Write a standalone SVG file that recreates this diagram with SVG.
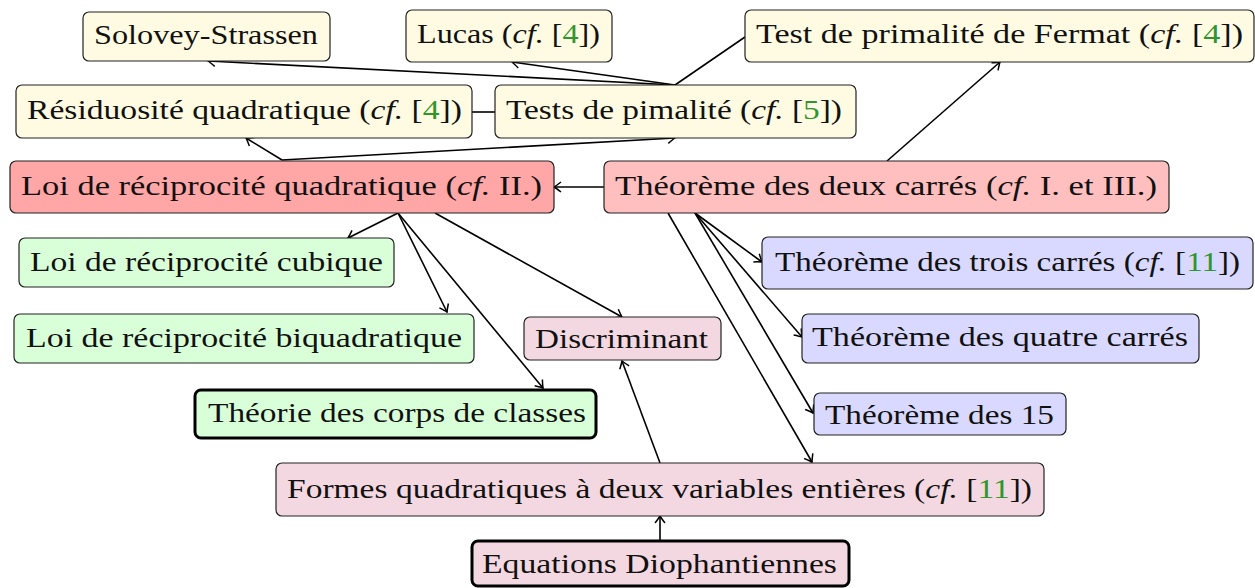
<svg xmlns="http://www.w3.org/2000/svg" width="1255" height="588" viewBox="0 0 1255 588" font-family="Liberation Serif, Times New Roman, Times, serif">
<style>
.box{stroke:#222;stroke-width:1.2}
.thick{stroke:#000;stroke-width:3}
.y{fill:#fefbe2}.r1{fill:#ffa6a6}.r2{fill:#ffbfbf}.g{fill:#d9ffd9}.b{fill:#d9d9ff}.p{fill:#f4d8e1}
text{font-family:'Liberation Serif','Times New Roman',Times,serif;font-size:28px;fill:#111}
.i{font-style:italic}.c{fill:#2f962f}
.e{fill:none;stroke:#000;stroke-width:1.6}
</style>
<defs>
<marker id="ar" markerUnits="userSpaceOnUse" markerWidth="14" markerHeight="14" refX="0" refY="0" viewBox="-8 -7 10 14" orient="auto" overflow="visible">
<path d="M-7,-5 Q-2,-1.2 0,0 Q-2,1.2 -7,5" fill="none" stroke="#000" stroke-width="1.5"/>
</marker>
</defs>
<g id="connectors">
<path class="e" d="M675,85 L208,61" marker-end="url(#ar)"/>
<path class="e" d="M675,85 L512,62" marker-end="url(#ar)"/>
<path class="e" d="M675,85 L745,37"/>
<path class="e" d="M472,112 L495,112"/>
<path class="e" d="M282,160 L246,138" marker-end="url(#ar)"/>
<path class="e" d="M282,160 L675,138" marker-end="url(#ar)"/>
<path class="e" d="M604,187 L554,187" marker-end="url(#ar)"/>
<path class="e" d="M887,161 L1000,62" marker-end="url(#ar)"/>
<path class="e" d="M398,213 L348,238" marker-end="url(#ar)"/>
<path class="e" d="M398,213 L447,312" marker-end="url(#ar)"/>
<path class="e" d="M398,213 L543,388" marker-end="url(#ar)"/>
<path class="e" d="M435,213 L622,317" marker-end="url(#ar)"/>
<path class="e" d="M668,213 L812,462" marker-end="url(#ar)"/>
<path class="e" d="M695,213 L762,262" marker-end="url(#ar)"/>
<path class="e" d="M695,213 L802,337" marker-end="url(#ar)"/>
<path class="e" d="M695,213 L813,413" marker-end="url(#ar)"/>
<path class="e" d="M660,463 L622,361" marker-end="url(#ar)"/>
<path class="e" d="M660,541 L660,516" marker-end="url(#ar)"/>
</g>
<g id="solovey"><rect class="box y" x="83" y="12" width="247" height="49" rx="6"/><text x="94" y="44" textLength="224" lengthAdjust="spacingAndGlyphs">Solovey-Strassen</text></g>
<g id="lucas"><rect class="box y" x="406" y="10" width="206" height="52" rx="6"/><text x="417" y="43" textLength="183" lengthAdjust="spacingAndGlyphs">Lucas (<tspan class="i">cf.</tspan> [<tspan class="c">4</tspan>])</text></g>
<g id="fermat"><rect class="box y" x="745" y="10" width="509" height="52" rx="6"/><text x="756" y="43" textLength="487" lengthAdjust="spacingAndGlyphs">Test de primalité de Fermat (<tspan class="i">cf.</tspan> [<tspan class="c">4</tspan>])</text></g>
<g id="residuosite"><rect class="box y" x="16" y="85" width="456" height="53" rx="6"/><text x="27" y="119" textLength="435" lengthAdjust="spacingAndGlyphs">Résiduosité quadratique (<tspan class="i">cf.</tspan> [<tspan class="c">4</tspan>])</text></g>
<g id="tests"><rect class="box y" x="495" y="85" width="361" height="53" rx="6"/><text x="506" y="119" textLength="336" lengthAdjust="spacingAndGlyphs">Tests de pimalité (<tspan class="i">cf.</tspan> [<tspan class="c">5</tspan>])</text></g>
<g id="loiquad"><rect class="box r1" x="10" y="161" width="544" height="52" rx="6"/><text x="21" y="195" textLength="521" lengthAdjust="spacingAndGlyphs">Loi de réciprocité quadratique (<tspan class="i">cf.</tspan> II.)</text></g>
<g id="deuxcarres"><rect class="box r2" x="604" y="161" width="565" height="52" rx="6"/><text x="615" y="195" textLength="542" lengthAdjust="spacingAndGlyphs">Théorème des deux carrés (<tspan class="i">cf.</tspan> I. et III.)</text></g>
<g id="cubique"><rect class="box g" x="19" y="238" width="375" height="49" rx="6"/><text x="30" y="271" textLength="353" lengthAdjust="spacingAndGlyphs">Loi de réciprocité cubique</text></g>
<g id="biquad"><rect class="box g" x="14" y="314" width="460" height="49" rx="6"/><text x="26" y="347" textLength="436" lengthAdjust="spacingAndGlyphs">Loi de réciprocité biquadratique</text></g>
<g id="corps"><rect class="thick g" x="195" y="390" width="401" height="48" rx="6"/><text x="208" y="422" textLength="378" lengthAdjust="spacingAndGlyphs">Théorie des corps de classes</text></g>
<g id="discriminant"><rect class="box p" x="524" y="317" width="197" height="43" rx="6"/><text x="535" y="348" textLength="173" lengthAdjust="spacingAndGlyphs">Discriminant</text></g>
<g id="troiscarres"><rect class="box b" x="762" y="237" width="491" height="52" rx="6"/><text x="775" y="271" textLength="465" lengthAdjust="spacingAndGlyphs">Théorème des trois carrés (<tspan class="i">cf.</tspan> [<tspan class="c">11</tspan>])</text></g>
<g id="quatrecarres"><rect class="box b" x="802" y="314" width="397" height="49" rx="6"/><text x="812" y="346" textLength="376" lengthAdjust="spacingAndGlyphs">Théorème des quatre carrés</text></g>
<g id="quinze"><rect class="box b" x="814" y="393" width="252" height="42" rx="6"/><text x="825" y="424" textLength="229" lengthAdjust="spacingAndGlyphs">Théorème des 15</text></g>
<g id="formes"><rect class="box p" x="276" y="463" width="768" height="53" rx="6"/><text x="287" y="498" textLength="745" lengthAdjust="spacingAndGlyphs">Formes quadratiques à deux variables entières (<tspan class="i">cf.</tspan> [<tspan class="c">11</tspan>])</text></g>
<g id="equations"><rect class="thick p" x="472" y="541" width="377" height="45" rx="6"/><text x="482" y="573" textLength="355" lengthAdjust="spacingAndGlyphs">Equations Diophantiennes</text></g>
</svg>
